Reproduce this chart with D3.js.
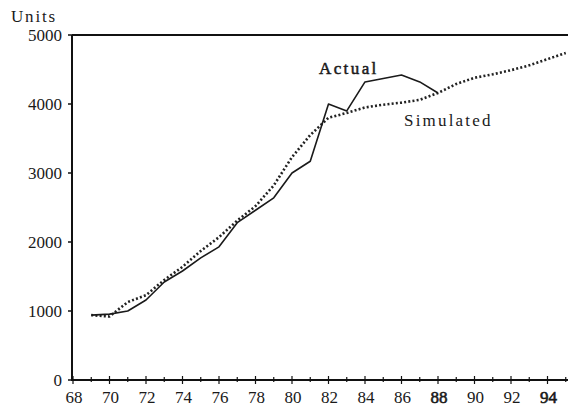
<!DOCTYPE html>
<html>
<head>
<meta charset="utf-8">
<script src="https://cdn.jsdelivr.net/npm/d3@7"></script>
<style>
  html, body { margin: 0; padding: 0; background: #fff; }
  svg text { font-family: "Liberation Serif", "DejaVu Serif", serif; fill: #1a1a1a; }
</style>
</head>
<body>
<div id="chart"></div>
<script>
// ── Données ────────────────────────────────────────────────────────────────
const actualYears = [69, 70, 71, 72, 73, 74, 75, 76, 77, 78, 79, 80, 81, 82, 83, 84, 85, 86, 87, 88];
const actualUnits = [940, 955, 1000, 1160, 1420, 1580, 1770, 1930, 2280, 2460, 2640, 3000, 3170, 4000, 3900, 4320, 4370, 4420, 4320, 4160];

const simYears = [69, 70, 71, 72, 73, 74, 75, 76, 77, 78, 79, 80, 81, 82, 83, 84, 85, 86, 87, 88, 89, 90, 91, 92, 93, 94, 95];
const simUnits = [940, 920, 1130, 1230, 1450, 1640, 1870, 2070, 2310, 2520, 2820, 3230, 3550, 3800, 3870, 3950, 3990, 4020, 4060, 4160, 4290, 4380, 4430, 4490, 4560, 4650, 4740];

const yTicks = [0, 1000, 2000, 3000, 4000, 5000];
const xTickLabels = [68, 70, 72, 74, 76, 78, 80, 82, 84, 86, 88, 90, 92, 94];
const xMinorTicks = d3.range(68, 96);

const W = 568, H = 407;

const x = d3.scaleLinear().domain([68, 94]).range([73, 547.5]);
const y = d3.scaleLinear().domain([0, 5000]).range([380, 35]);
const xLeft = 72, xRight = W;

const svg = d3.select('#chart').append('svg')
  .attr('width', W).attr('height', H)
  .attr('viewBox', `0 0 ${W} ${H}`);

// clip pour la série simulée qui sort à droite
svg.append('clipPath').attr('id', 'plot')
  .append('rect').attr('x', xLeft).attr('y', 30).attr('width', W - xLeft).attr('height', 355);

// ── Cadre : axe gauche, haut, bas ──────────────────────────────────────────
const frame = svg.append('g').attr('stroke', '#111').attr('fill', 'none');
frame.append('line').attr('x1', xLeft).attr('x2', xLeft).attr('y1', y(5000)).attr('y2', y(0) + 1)
  .attr('stroke-width', 2);
frame.append('line').attr('x1', xLeft).attr('x2', xRight).attr('y1', y(5000)).attr('y2', y(5000))
  .attr('stroke-width', 2);
frame.append('line').attr('x1', xLeft).attr('x2', xRight).attr('y1', y(0)).attr('y2', y(0))
  .attr('stroke-width', 2);

// petites marques Y
frame.selectAll('line.yt').data(yTicks).join('line')
  .attr('class', 'yt')
  .attr('x1', xLeft - 4).attr('x2', xLeft)
  .attr('y1', d => y(d)).attr('y2', d => y(d))
  .attr('stroke-width', 1.5);

// marques X (années paires plus longues)
frame.selectAll('line.xt').data(xMinorTicks).join('line')
  .attr('class', 'xt')
  .attr('x1', d => x(d)).attr('x2', d => x(d))
  .attr('y1', d => y(0) - (d % 2 === 0 ? 4 : 3))
  .attr('y2', d => y(0) + (d % 2 === 0 ? 4 : 2))
  .attr('stroke-width', 1.2);

// ── Libellés ───────────────────────────────────────────────────────────────
svg.append('g').selectAll('text').data(yTicks).join('text')
  .attr('x', 62).attr('y', d => y(d))
  .attr('dy', '0.34em')
  .attr('text-anchor', 'end')
  .style('font-size', '17px')
  .text(d => d);

svg.append('g').selectAll('text').data(xTickLabels).join('text')
  .attr('x', d => x(d) + 1).attr('y', 403)
  .attr('text-anchor', 'middle')
  .style('font-size', '17px')
  .style('stroke', d => (d === 88 || d === 94) ? '#1a1a1a' : 'none')
  .style('stroke-width', 0.6)
  .text(d => d);

svg.append('text')
  .attr('x', 11).attr('y', 22)
  .style('font-size', '17px')
  .style('letter-spacing', '1.8px')
  .text('Units');

// ── Séries ─────────────────────────────────────────────────────────────────
const line = d3.line().x(d => x(d[0])).y(d => y(d[1]));

svg.append('path')
  .datum(d3.zip(simYears, simUnits))
  .attr('clip-path', 'url(#plot)')
  .attr('d', line)
  .attr('fill', 'none')
  .attr('stroke', '#222')
  .attr('stroke-width', 2.6)
  .attr('stroke-dasharray', '2,2.2');

svg.append('path')
  .datum(d3.zip(actualYears, actualUnits))
  .attr('d', line)
  .attr('fill', 'none')
  .attr('stroke', '#1a1a1a')
  .attr('stroke-width', 1.6)
  .attr('stroke-linejoin', 'round');

svg.append('text')
  .attr('x', 319).attr('y', 74)
  .style('font-size', '17px')
  .style('stroke', '#1a1a1a')
  .style('stroke-width', 0.5)
  .style('letter-spacing', '2.4px')
  .text('Actual');

svg.append('text')
  .attr('x', 404).attr('y', 126)
  .style('font-size', '17px')
  .style('letter-spacing', '2.2px')
  .text('Simulated');
</script>
</body>
</html>
